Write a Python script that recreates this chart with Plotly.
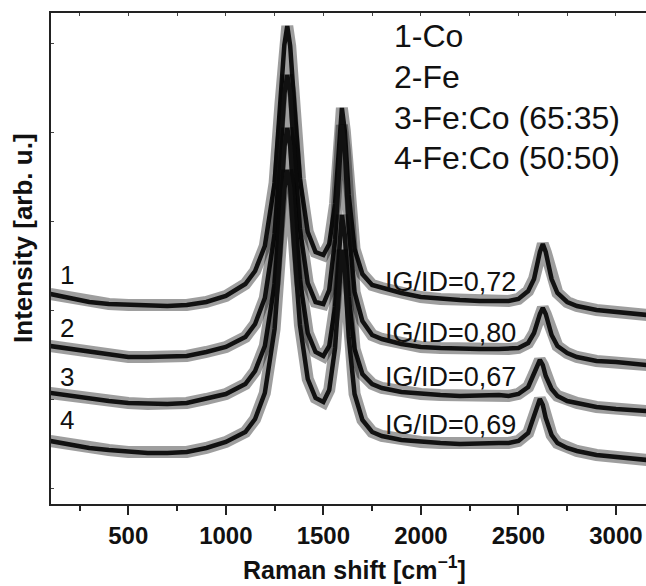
import plotly.graph_objects as go

# Raman shift grid (cm^-1)
raman_shift = [100, 200, 300, 400, 500, 600, 700, 800, 900, 1000, 1100, 1150, 1200, 1250,
               1280, 1300, 1315, 1330, 1350, 1380, 1420, 1460, 1500, 1530, 1560, 1580,
               1595, 1610, 1630, 1660, 1700, 1750, 1800, 1900, 2000, 2100, 2200, 2300,
               2400, 2450, 2500, 2550, 2580, 2610, 2625, 2640, 2670, 2700, 2750, 2800,
               2900, 3000, 3100, 3160]

# Intensity (arb. u., curves stacked with vertical offset)
co = [210, 206, 202, 200, 199, 198, 198, 199, 202, 208, 220, 233, 258, 321,
      400, 459, 478, 458, 402, 325, 272, 252, 249, 260, 300, 356,
      396, 373, 309, 255, 230, 219, 216, 211, 207, 205, 204, 203,
      203, 203, 205, 213, 225, 252, 260, 252, 225, 211, 202, 198,
      194, 192, 190, 189]
fe = [158, 155, 152, 149, 147, 147, 147, 148, 152, 157, 167, 180, 206, 270,
      350, 410, 429, 411, 352, 275, 221, 202, 200, 214, 264, 333,
      379, 354, 277, 212, 183, 169, 165, 160, 157, 156, 155, 155,
      155, 155, 156, 161, 171, 190, 196, 190, 169, 158, 151, 147,
      143, 142, 140, 139]
feco_65_35 = [111, 108, 105, 103, 101, 100, 100, 101, 105, 110, 120, 133, 158, 220,
              298, 357, 376, 358, 300, 224, 171, 152, 148, 158, 197, 252,
              289, 269, 207, 155, 130, 120, 116, 112, 110, 109, 108, 109,
              109, 108, 110, 117, 130, 144, 139, 128, 115, 108, 103, 101,
              97, 95, 94, 93]
feco_50_50 = [63, 59, 56, 54, 52, 51, 51, 52, 56, 62, 72, 85, 111, 175,
              255, 315, 334, 316, 257, 179, 125, 106, 102, 114, 156, 216,
              254, 234, 167, 110, 84, 72, 68, 64, 62, 61, 60, 61,
              61, 61, 63, 71, 88, 105, 99, 86, 69, 61, 56, 53,
              49, 47, 45, 44]

spectra = [co, fe, feco_65_35, feco_50_50]
curve_numbers = ["1", "2", "3", "4"]
curve_number_y = [229, 176, 127, 84]
ratio_labels = ["IG/ID=0,72", "IG/ID=0,80", "IG/ID=0,67", "IG/ID=0,69"]
ratio_label_y = [222, 171, 127, 79]
sample_names = ["1-Co", "2-Fe", "3-Fe:Co (65:35)", "4-Fe:Co (50:50)"]
sample_name_y = [468, 427, 386, 346]

X_RANGE = [103.8, 3154]
Y_RANGE = [0, 491]
FONT = "Arial, Liberation Sans, sans-serif"

fig = go.Figure()

for y in spectra:
    # soft band standing in for the detector noise around each spectrum
    fig.add_trace(go.Scatter(x=raman_shift, y=y, mode="lines",
                             line=dict(color="rgba(0,0,0,0.38)", width=12),
                             hoverinfo="skip", showlegend=False))
    fig.add_trace(go.Scatter(x=raman_shift, y=y, mode="lines",
                             line=dict(color="#111111", width=4.5),
                             showlegend=False))

# trace carrying the top axis
fig.add_trace(go.Scatter(x=X_RANGE, y=[-10, -10], xaxis="x2", mode="lines",
                         line=dict(width=0), showlegend=False, hoverinfo="skip"))

for num, yy in zip(curve_numbers, curve_number_y):
    fig.add_annotation(x=186, y=yy, text=num, showarrow=False,
                       font=dict(family=FONT, size=26, color="#111"),
                       xanchor="center", yanchor="middle")

for txt, yy in zip(ratio_labels, ratio_label_y):
    fig.add_annotation(x=1806, y=yy, text=txt, showarrow=False,
                       font=dict(family=FONT, size=27, color="#111"),
                       xanchor="left", yanchor="middle")

for txt, yy in zip(sample_names, sample_name_y):
    fig.add_annotation(x=1850, y=yy, text=txt, showarrow=False,
                       font=dict(family=FONT, size=32, color="#111"),
                       xanchor="left", yanchor="middle")

# axis titles
fig.add_annotation(xref="paper", yref="paper", x=-0.047, y=0.54,
                   text="<b>Intensity [arb. u.]</b>", textangle=-90, showarrow=False,
                   font=dict(family=FONT, size=26, color="#111"),
                   xanchor="center", yanchor="middle")
fig.add_annotation(xref="paper", yref="paper", x=0.51, y=-0.13,
                   text="<b>Raman shift [cm<sup>−1</sup>]</b>", showarrow=False,
                   font=dict(family=FONT, size=25, color="#111"),
                   xanchor="center", yanchor="middle")

fig.update_layout(
    width=646, height=586,
    margin=dict(l=51, r=0, t=13, b=82),
    paper_bgcolor="white", plot_bgcolor="white",
    showlegend=False,
    xaxis=dict(range=X_RANGE, showgrid=False, zeroline=False,
               showline=True, linecolor="#222", linewidth=1.5,
               tickmode="linear", tick0=500, dtick=500,
               ticks="outside", ticklen=9, tickwidth=1.5, tickcolor="#222",
               minor=dict(ticks="outside", ticklen=5, tickwidth=1.5,
                          tickcolor="#222", dtick=250, tick0=250),
               tickfont=dict(family=FONT, size=24, color="#111", weight="bold")),
    xaxis2=dict(range=X_RANGE, overlaying="x", side="top", showgrid=False,
                zeroline=False, showline=True, linecolor="#222", linewidth=1.5,
                tickmode="linear", tick0=250, dtick=250, ticks="inside",
                ticklen=3, tickwidth=1, tickcolor="#444", showticklabels=False),
    yaxis=dict(range=Y_RANGE, showgrid=False, zeroline=False,
               showline=True, linecolor="#222", linewidth=1.5,
               tickmode="linear", tick0=16, dtick=89, ticks="inside",
               ticklen=3, tickwidth=1, tickcolor="#444", showticklabels=False),
)

fig.write_html("out.html")
